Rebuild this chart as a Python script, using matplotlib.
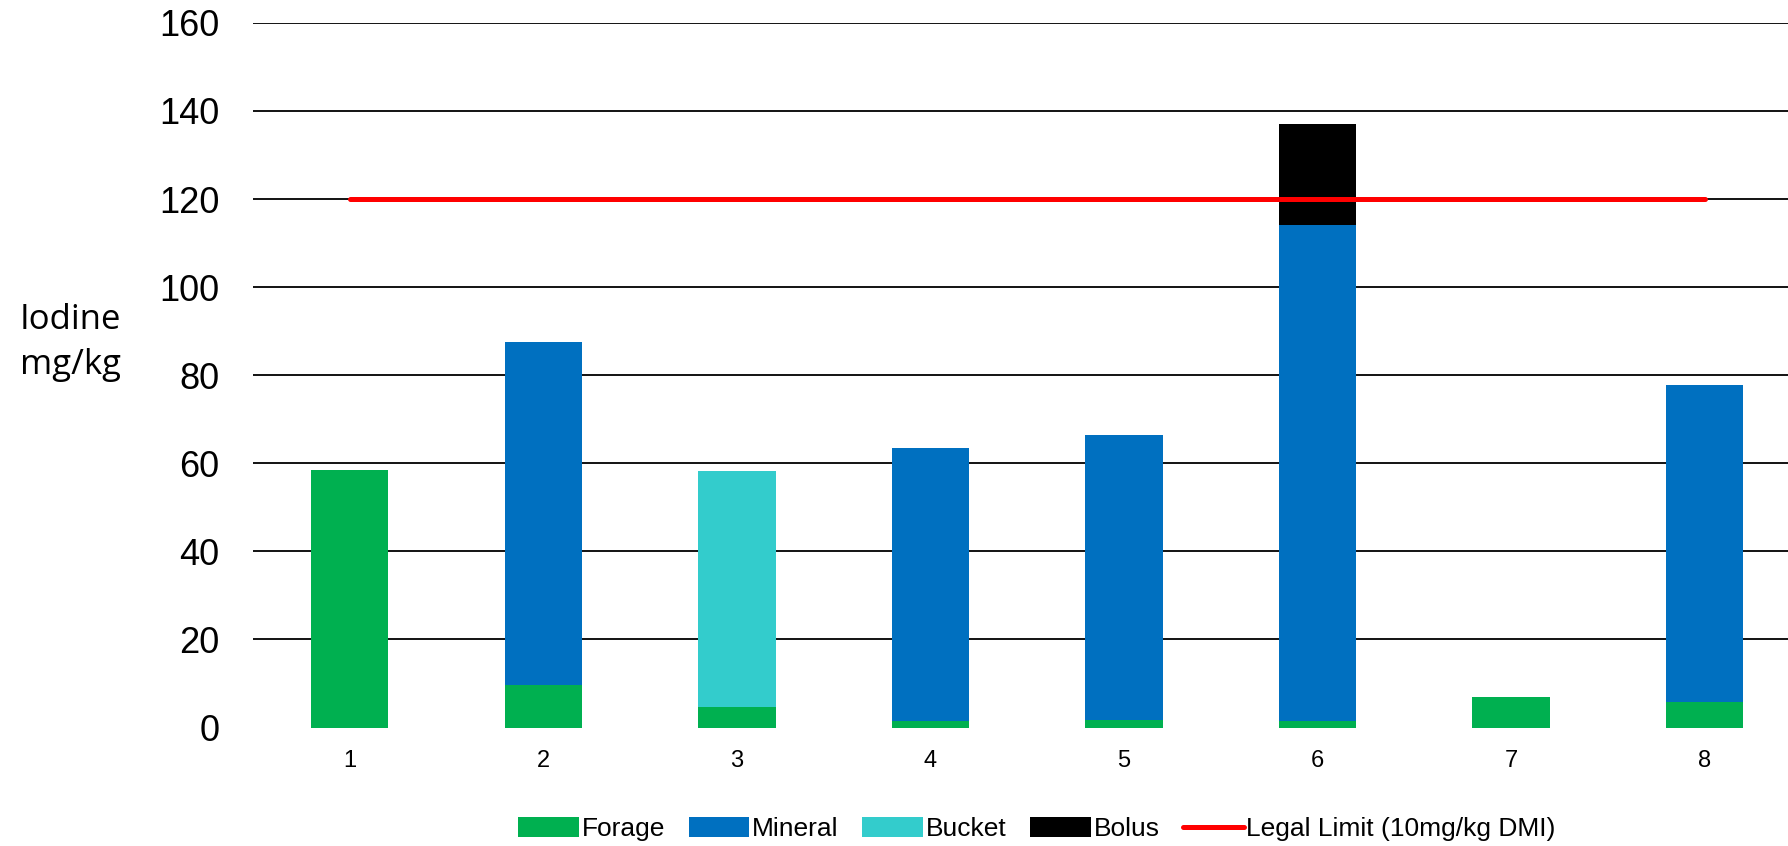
import numpy as np
import matplotlib.pyplot as plt

# data
farms = ['1', '2', '3', '4', '5', '6', '7', '8']
forage = [58.5, 9.6, 4.7, 1.5, 1.8, 1.5, 7.0, 5.7]
mineral = [0, 77.9, 0, 61.9, 64.7, 112.6, 0, 72.0]
bucket = [0, 0, 53.6, 0, 0, 0, 0, 0]
bolus = [0, 0, 0, 0, 0, 23.0, 0, 0]
legal_limit = [120] * 8

plt.rcParams['font.family'] = ['Liberation Sans', 'DejaVu Sans']

fig = plt.figure(figsize=(17.88, 8.46), dpi=100)
ax = fig.add_axes([0.1415, 0.140, 0.8585, 0.833])

x = np.arange(1, len(farms) + 1)
w = 0.4
forage_a = np.array(forage)
mineral_a = np.array(mineral)
bucket_a = np.array(bucket)
bolus_a = np.array(bolus)

h1 = ax.bar(x, forage_a, w, color='#00B050', label='Forage', zorder=2)
h2 = ax.bar(x, mineral_a, w, bottom=forage_a, color='#0070C0', label='Mineral', zorder=2)
h3 = ax.bar(x, bucket_a, w, bottom=forage_a + mineral_a, color='#33CCCC',
            label='Bucket', zorder=2)
h4 = ax.bar(x, bolus_a, w, bottom=forage_a + mineral_a + bucket_a, color='#000000',
            label='Bolus', zorder=2)
h5, = ax.plot(x, legal_limit, color='#FF0000', linewidth=3.6, solid_capstyle='round',
              label='Legal Limit (10mg/kg DMI)', zorder=3)

ax.set_ylim(0, 160)
ax.set_xlim(0.5, 8.43)
ax.set_yticks(range(0, 161, 20))
ax.set_xticks(x)
ax.set_xticklabels(farms, fontsize=17)
ax.tick_params(axis='y', labelsize=26, length=0, pad=24)
ax.tick_params(axis='x', length=0, pad=16)

for yv in range(20, 161, 20):
    ax.axhline(yv, color='black', linewidth=1.3, zorder=1)
for s in ax.spines.values():
    s.set_visible(False)

fig.text(0.011, 0.595, 'Iodine\nmg/kg', fontsize=25, family='Open Sans',
         ha='left', va='center', linespacing=1.4)

fig.legend(handles=[h1, h2, h3, h4, h5], loc='center', bbox_to_anchor=(0.58, 0.02),
           ncol=5, frameon=False, fontsize=19, handlelength=2.3, handleheight=0.8,
           handletextpad=0.1, columnspacing=0.9)

fig.savefig('out.png', dpi=100)
